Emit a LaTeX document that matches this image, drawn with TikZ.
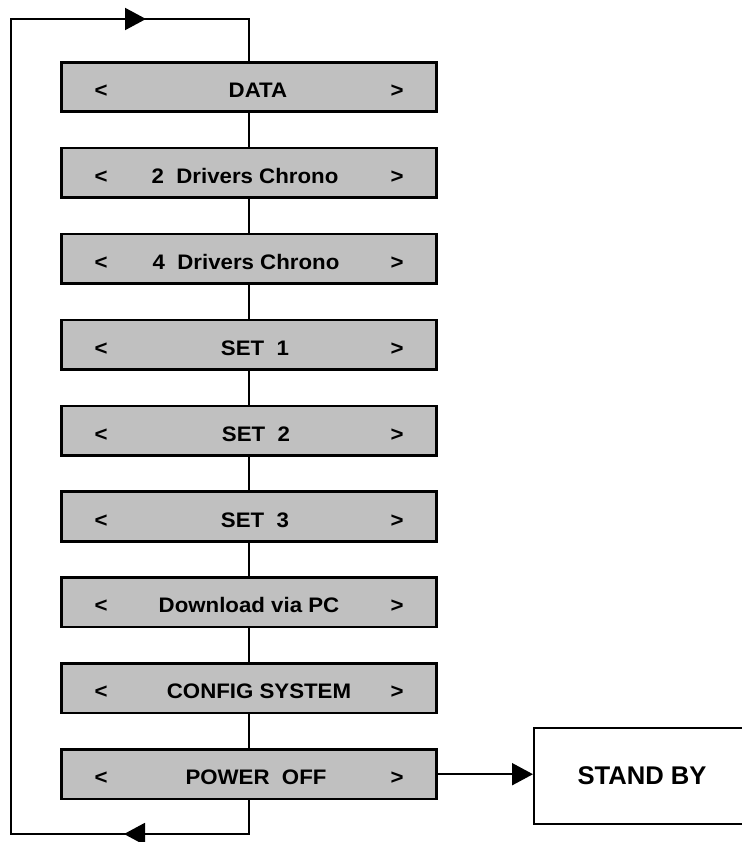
\documentclass[tikz,border=0pt]{standalone}
\usepackage{fontspec}
\setmainfont{Liberation Sans}
\newfontfamily\menufont{Liberation Sans}[FakeStretch=1.06]
\usetikzlibrary{arrows.meta}
\definecolor{menugray}{HTML}{C0C0C0}
\tikzset{
  menubox/.style={draw=black, line width=2.6pt, fill=menugray, minimum width=375pt, minimum height=49.5pt, inner sep=0pt},
  menutext/.style={anchor=base, inner sep=0pt, font=\menufont\bfseries\fontsize{21}{25}\selectfont},
  sbbox/.style={draw=black, line width=2pt, fill=white, minimum width=226pt, minimum height=96pt, inner sep=0pt, font=\bfseries\fontsize{25.6}{30}\selectfont},
  conn/.style={line width=2pt, draw=black},
  tipr/.style={-{Triangle[length=21pt,width=22pt]}}
}
\begin{document}
\begin{tikzpicture}[x=1pt,y=-1pt]
\useasboundingbox (0,0) rectangle (741,842);
\fill[white] (0,0) rectangle (741,842);
% menu boxes
\foreach \n/\lab/\tx [count=\i from 0] in {
  b1/DATA/258,
  b2/{2\ \ Drivers Chrono}/245,
  b3/{4\ \ Drivers Chrono}/246,
  b4/{SET\ \ 1}/255,
  b5/{SET\ \ 2}/256,
  b6/{SET\ \ 3}/255,
  b7/{Download via PC}/249,
  b8/{CONFIG SYSTEM}/259,
  b9/{POWER\ \ OFF}/256}{
  \pgfmathsetmacro{\yy}{87+85.9*\i}
  \node[menubox] (\n) at (249,\yy) {};
  \node[menutext] (\n l) at (101,\yy+10.5) {<};
  \node[menutext] (\n r) at (397,\yy+10.5) {>};
  \node[menutext] (\n t) at (\tx,\yy+10.5) {\lab};
}
% stand by
\node[sbbox] (sb) at (647,776) {STAND BY\kern10pt};
% connectors
\foreach \a/\b in {b1/b2,b2/b3,b3/b4,b4/b5,b5/b6,b6/b7,b7/b8,b8/b9}{
  \draw[conn] (\a.south) -- (\b.north);
}
\coordinate (bl) at (11,834);
\coordinate (br) at (249,834);
\coordinate (tl) at (11,19);
\coordinate (tr) at (249,19);
\coordinate (ab) at (124,834);
\coordinate (at) at (146,19);
\draw[conn] (b9.south) -- (br) -- (bl) -- (tl) -- (tr) -- (b1.north);
\draw[conn,tipr] (br) -- (ab);
\draw[conn,tipr] (tl) -- (at);
\draw[conn,tipr] (b9.east) -- (b9.east -| sb.west);
\end{tikzpicture}
\end{document}
